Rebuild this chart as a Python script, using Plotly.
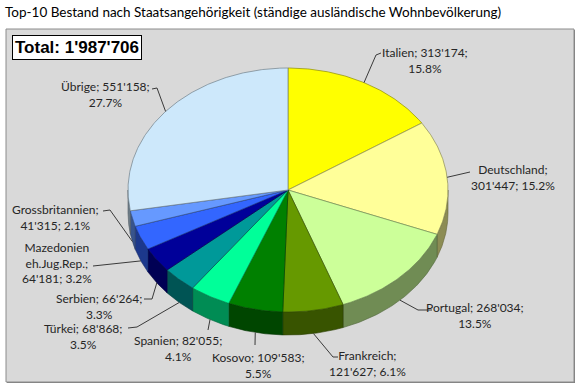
import numpy as np
import plotly.graph_objects as go

# ---------------- data ----------------
countries = ["Italien", "Deutschland", "Portugal", "Frankreich", "Kosovo", "Spanien",
             "Türkei", "Serbien", "Mazedonien eh.Jug.Rep.", "Grossbritannien", "Übrige"]
values = [313174, 301447, 268034, 121627, 109583, 82055, 68868, 66264, 64181, 41315, 551158]
top_colors = ["#ffff00", "#ffff99", "#ccff99", "#669900", "#008000", "#00ff99",
              "#009999", "#000099", "#3366ff", "#6699ff", "#cde8fb"]
title_text = "Top-10 Bestand nach Staatsangehörigkeit (ständige ausländische Wohnbevölkerung)"

# ---------------- layout params ----------------
W, H = 577, 385
CX, CY, RX, RY, DEPTH = 288, 190, 160, 122, 23
FONT = "Lato"

# label placement: (text center x, text center y, template, elbow points near label)
label_layout = [
    (425, 60, "{n}; {v};<br>{p}", [(376, 55), (381, 53)]),
    (513, 177.5, "{n};<br>{v}; {p}", [(470, 172)]),
    (475, 315.5, "{n}; {v};<br>{p}", [(418, 310), (432, 310)]),
    (367, 363.5, "{n};<br>{v}; {p}", [(333, 357), (338, 357)]),
    (258, 365, "{n}; {v};<br>{p}", [(255, 345)]),
    (178, 348.5, "{n}; {v};<br>{p}", [(208, 330)]),
    (83, 336.5, "{n}; {v};<br>{p}", [(137, 327), (128, 328)]),
    (99, 306.5, "{n}; {v};<br>{p}", [(152, 299), (144, 299)]),
    (57, 263, "{nb};<br>{v}; {p}", [(100, 265), (93, 266)]),
    (55, 217, "{n};<br>{v}; {p}", [(110, 210), (103, 211)]),
    (105, 94, "{n}; {v};<br>{p}", [(157, 88), (152, 89)]),
]


def shade(hexcol, f):
    h = hexcol.lstrip("#")
    r, g, b = (int(h[i:i + 2], 16) for i in (0, 2, 4))
    return "rgb(%d,%d,%d)" % (r * f, g * f, b * f)


def ell(theta_deg, dy=0.0):
    t = np.radians(theta_deg)
    return CX + RX * np.sin(t), CY - RY * np.cos(t) + dy


total = sum(values)
fracs = [v / total for v in values]
starts = np.concatenate([[0], np.cumsum(fracs)[:-1]]) * 360
ends = np.cumsum(fracs) * 360

fig = go.Figure()

# side walls (visible front half: 90..270 deg)
for i, (a0, a1) in enumerate(zip(starts, ends)):
    lo, hi = max(a0, 90), min(a1, 270)
    if hi <= lo:
        continue
    ts = np.linspace(lo, hi, 60)
    xt, yt = ell(ts)
    xb, yb = ell(ts[::-1], DEPTH)
    xs = np.concatenate([xt, xb, xt[:1]])
    ys = np.concatenate([yt, yb, yt[:1]])
    fig.add_trace(go.Scatter(x=xs, y=ys, mode="lines", fill="toself",
                             fillcolor=shade(top_colors[i], 0.55),
                             line=dict(color=shade(top_colors[i], 0.4), width=0.6),
                             hoverinfo="skip", showlegend=False))

# top faces
for i, (a0, a1) in enumerate(zip(starts, ends)):
    ts = np.linspace(a0, a1, max(8, int((a1 - a0) * 2)))
    xa, ya = ell(ts)
    xs = np.concatenate([[CX], xa, [CX]])
    ys = np.concatenate([[CY], ya, [CY]])
    fig.add_trace(go.Scatter(x=xs, y=ys, mode="lines", fill="toself",
                             fillcolor=top_colors[i],
                             line=dict(color=shade(top_colors[i], 0.55), width=0.7),
                             hoverinfo="skip", showlegend=False))

# labels + leader lines
for i, (tx, ty, tpl, elbow) in enumerate(label_layout):
    mid = (starts[i] + ends[i]) / 2
    dy = DEPTH if 90 < mid < 270 else 0
    ax, ay = ell(mid, dy)
    px = [float(ax)] + [p[0] for p in elbow]
    py = [float(ay)] + [p[1] for p in elbow]
    fig.add_trace(go.Scatter(x=px, y=py, mode="lines",
                             line=dict(color="#3a3a3a", width=1),
                             hoverinfo="skip", showlegend=False))
    vtxt = f"{values[i]:,}".replace(",", "'")
    ptxt = f"{fracs[i] * 100:.1f}%"
    txt = tpl.format(n=countries[i], nb=countries[i].replace(" ", "<br>"), v=vtxt, p=ptxt)
    fig.add_annotation(x=tx, y=ty, xref="x", yref="y", text=txt, showarrow=False,
                       xanchor="center", yanchor="middle", align="center",
                       font=dict(family=FONT, size=12, color="#262626"))

# Total box
fig.add_annotation(x=77, y=47.5, xref="x", yref="y",
                   text="<b>Total: " + f"{total:,}".replace(",", "'") + "</b>",
                   showarrow=False, xanchor="center", yanchor="middle",
                   font=dict(family="Liberation Sans, Arial", size=17, color="black"),
                   bgcolor="white", bordercolor="black", borderwidth=1, borderpad=2)

# title
fig.add_annotation(x=3, y=12, xref="x", yref="y", text=title_text, showarrow=False,
                   xanchor="left", yanchor="middle",
                   font=dict(family=FONT, size=13.5, color="black"))

fig.update_layout(
    width=W, height=H, margin=dict(l=0, r=0, t=0, b=0),
    paper_bgcolor="white", plot_bgcolor="white",
    xaxis=dict(range=[0, W], visible=False, fixedrange=True),
    yaxis=dict(range=[H, 0], visible=False, fixedrange=True),
    shapes=[
        dict(type="rect", xref="x", yref="y", x0=7, y0=30, x1=575, y1=383,
             fillcolor="#7f7f7f", line=dict(width=0), layer="below"),
        dict(type="rect", xref="x", yref="y", x0=6, y0=29, x1=574, y1=382,
             fillcolor="#d9d9d9", line=dict(color="#8c8c8c", width=1), layer="below"),
    ],
)

fig.write_html("out.html", config={"displayModeBar": False},
               post_script="document.body.style.margin='0';document.body.style.overflow='hidden';")
